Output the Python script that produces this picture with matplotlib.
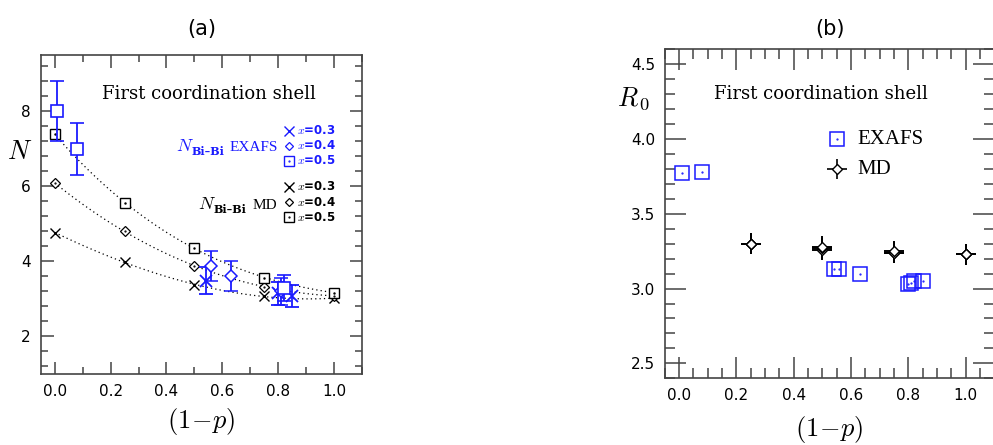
import numpy as np
import matplotlib
matplotlib.use("Agg")
import matplotlib.pyplot as plt
from matplotlib.ticker import MultipleLocator, FormatStrFormatter

plt.rcParams["mathtext.fontset"] = "cm"
plt.rcParams["font.family"] = ["DejaVu Sans"]

BLUE = "#1a1aff"
FRAME = "#444444"

# --- MD, coordination number N (panel a) ---
md_p = [0.0, 0.25, 0.5, 0.75, 1.0]
md_n_x03 = [4.77, 3.98, 3.38, 3.07, 3.02]
md_n_x04 = [6.09, 4.80, 3.88, 3.33, 3.08]
md_n_x05 = [7.39, 5.56, 4.37, 3.56, 3.17]

# --- EXAFS, coordination number N with errors (panel a) ---
ex_p_x03 = [0.54, 0.80, 0.85]
ex_n_x03 = [3.49, 3.15, 3.08]
ex_err_x03 = [0.35, 0.30, 0.30]

ex_p_x04 = [0.56, 0.63, 0.81]
ex_n_x04 = [3.88, 3.60, 3.20]
ex_err_x04 = [0.40, 0.40, 0.35]

ex_p_x05 = [0.01, 0.08, 0.82]
ex_n_x05 = [8.00, 7.00, 3.30]
ex_err_x05 = [0.80, 0.70, 0.35]

# --- distances R0 (panel b) ---
ex_r_x03 = [3.13, 3.03, 3.05]
ex_r_x04 = [3.13, 3.10, 3.04]
ex_r_x05 = [3.77, 3.78, 3.05]

md_p_r = [0.25, 0.5, 0.75, 1.0]
md_r_x03 = [3.30, 3.26, 3.24, 3.23]
md_r_x04 = [3.30, 3.27, 3.24, 3.23]
md_r_x05 = [3.30, 3.28, 3.25, 3.23]
md_r_xerr = 0.035
md_r_yerr = 0.07


def style_axes(ax, x_minor, y_major, y_minor, major_len, minor_len):
    for s in ax.spines.values():
        s.set_color(FRAME)
        s.set_linewidth(1.2)
    ax.xaxis.set_major_locator(MultipleLocator(0.2))
    ax.xaxis.set_minor_locator(MultipleLocator(x_minor))
    ax.yaxis.set_major_locator(MultipleLocator(y_major))
    ax.yaxis.set_minor_locator(MultipleLocator(y_minor))
    ax.tick_params(which="both", direction="in", top=True, right=True,
                   color=FRAME, width=1.1, labelsize=11, pad=7)
    ax.tick_params(which="major", length=major_len)
    ax.tick_params(which="minor", length=minor_len)
    ax.xaxis.set_major_formatter(FormatStrFormatter("%.1f"))


def label_n(ax, x_n, x_sub, x_word, y, y_sub, word, color):
    # N with a bold "Bi-Bi" subscript and a word after it, as in the original
    ax.text(x_n, y, r"$N$", transform=ax.transAxes, ha="right",
            va="baseline", color=color, fontsize=13)
    ax.text(x_sub, y_sub, "Bi\u2013Bi", transform=ax.transAxes, ha="right",
            va="baseline", color=color, family="DejaVu Serif",
            fontweight="bold", fontsize=8)
    ax.text(x_word, y, word, transform=ax.transAxes, ha="right",
            va="baseline", color=color, family="Liberation Serif",
            fontsize=11)


fig = plt.figure(figsize=(9.93, 4.45), dpi=100)

# ================= panel (a) =================
ax1 = fig.add_axes([0.041, 0.1596, 0.3236, 0.7168])
ax1.set_xlim(-0.05, 1.1)
ax1.set_ylim(1.0, 9.5)
style_axes(ax1, 0.1, 2, 0.4, 9, 5)
ax1.yaxis.set_major_formatter(FormatStrFormatter("%d"))

# dotted guide curves through the MD points
xs = np.linspace(0, 1, 100)
for vals in (md_n_x03, md_n_x04, md_n_x05):
    coef = np.polyfit(md_p, vals, 3)
    ax1.plot(xs, np.polyval(coef, xs), ls=(0, (1, 2.5)), color="k", lw=0.9)

ax1.plot(md_p, md_n_x03, "x", color="k", ms=7, mew=1.0, ls="none")
ax1.plot(md_p, md_n_x04, "D", color="k", mfc="white", ms=5, mew=0.9, ls="none")
ax1.plot(md_p, md_n_x05, "s", color="k", mfc="white", ms=7, mew=1.0, ls="none")
ax1.plot(md_p, md_n_x05, ".", color="k", ms=1.5, ls="none")
ax1.plot(md_p, md_n_x04, ".", color="k", ms=1.2, ls="none")

ekw = dict(color=BLUE, ls="none", elinewidth=1.3, capsize=5, capthick=1.3)
ax1.errorbar(ex_p_x03, ex_n_x03, yerr=ex_err_x03, fmt="x", ms=9, mew=1.3, **ekw)
ax1.errorbar(ex_p_x04, ex_n_x04, yerr=ex_err_x04, fmt="D", ms=6.5, mew=1.1,
             mfc="white", **ekw)
ax1.errorbar(ex_p_x05, ex_n_x05, yerr=ex_err_x05, fmt="s", ms=9, mew=1.2,
             mfc="white", **ekw)

ax1.text(0.522, 0.877, "First coordination shell", transform=ax1.transAxes,
         ha="center", va="center", family="DejaVu Serif", fontsize=13)

# in-plot legend (a)
leg_rows_blue = [0.763, 0.715, 0.669]
leg_rows_black = [0.587, 0.538, 0.491]
leg_labels = [r"$x$=0.3", r"$x$=0.4", r"$x$=0.5"]
leg_markers = [("x", 7, 1.0), ("D", 4.5, 0.9), ("s", 6.5, 1.0)]
for rows, col in ((leg_rows_blue, BLUE), (leg_rows_black, "k")):
    for y, lab, (m, ms, mew) in zip(rows, leg_labels, leg_markers):
        ax1.plot([0.774], [y], m, color=col, mfc="white", ms=ms, mew=mew,
                 transform=ax1.transAxes, clip_on=False)
        if m == "s":
            ax1.plot([0.774], [y], ".", color=col, ms=1.2,
                     transform=ax1.transAxes)
        ax1.text(0.797, y, lab, transform=ax1.transAxes, ha="left",
                 va="center", color=col, fontsize=8.5, fontweight="bold")

label_n(ax1, 0.478, 0.571, 0.7395, 0.700, 0.6865, "EXAFS", BLUE)
label_n(ax1, 0.545, 0.640, 0.7345, 0.517, 0.5056, "MD", "k")

ax1.set_xlabel(r"$(1\!-\!p)$", fontsize=19, labelpad=5)
ax1.text(-0.025, 0.695, r"$N$", transform=ax1.transAxes, ha="right",
         va="center", fontsize=19)
fig.text(0.2035, 0.935, "(a)", ha="center", va="center", fontsize=15)

# ================= panel (b) =================
ax2 = fig.add_axes([0.6694, 0.1499, 0.3318, 0.7393])
ax2.set_xlim(-0.05, 1.1)
ax2.set_ylim(2.4, 4.6)
style_axes(ax2, 0.05, 0.5, 0.1, 15, 7)
ax2.yaxis.set_major_formatter(FormatStrFormatter("%.1f"))

ex_p_all = ex_p_x03 + ex_p_x04 + ex_p_x05
ex_r_all = ex_r_x03 + ex_r_x04 + ex_r_x05
ax2.plot(ex_p_all, ex_r_all, "s", color=BLUE, mfc="none", ms=10.5, mew=1.1,
         ls="none")
ax2.plot(ex_p_all, ex_r_all, ".", color=BLUE, ms=1.2, ls="none")

for vals in (md_r_x03, md_r_x04, md_r_x05):
    ax2.errorbar(md_p_r, vals, xerr=md_r_xerr, yerr=md_r_yerr, fmt="D",
                 color="k", mfc="white", ms=5.5, mew=1.0, elinewidth=1.4,
                 capsize=0, ls="none")
    ax2.plot(md_p_r, vals, ".", color="k", ms=1.2, ls="none")

ax2.text(0.474, 0.864, "First coordination shell", transform=ax2.transAxes,
         ha="center", va="center", family="DejaVu Serif", fontsize=13)

# legend (b)
ax2.plot([0.522], [0.727], "s", color=BLUE, mfc="none", ms=10.5, mew=1.1,
         transform=ax2.transAxes)
ax2.plot([0.522], [0.727], ".", color=BLUE, ms=1.2, transform=ax2.transAxes)
ax2.errorbar([0.522], [0.636], xerr=0.03, yerr=0.03, fmt="D", color="k",
             mfc="white", ms=5.5, mew=1.0, elinewidth=1.2, capsize=0,
             transform=ax2.transAxes)
ax2.text(0.586, 0.727, "EXAFS", transform=ax2.transAxes, ha="left",
         va="center", family="Liberation Serif", fontsize=15)
ax2.text(0.586, 0.636, "MD", transform=ax2.transAxes, ha="left",
         va="center", family="Liberation Serif", fontsize=15)

ax2.set_xlabel(r"$(1\!-\!p)$", fontsize=19, labelpad=8)
ax2.text(-0.045, 0.85, r"$R_{\,\mathrm{0}}$", transform=ax2.transAxes,
         ha="right", va="center", fontsize=19)
fig.text(0.836, 0.935, "(b)", ha="center", va="center", fontsize=15)

fig.savefig("out.png", dpi=100)
